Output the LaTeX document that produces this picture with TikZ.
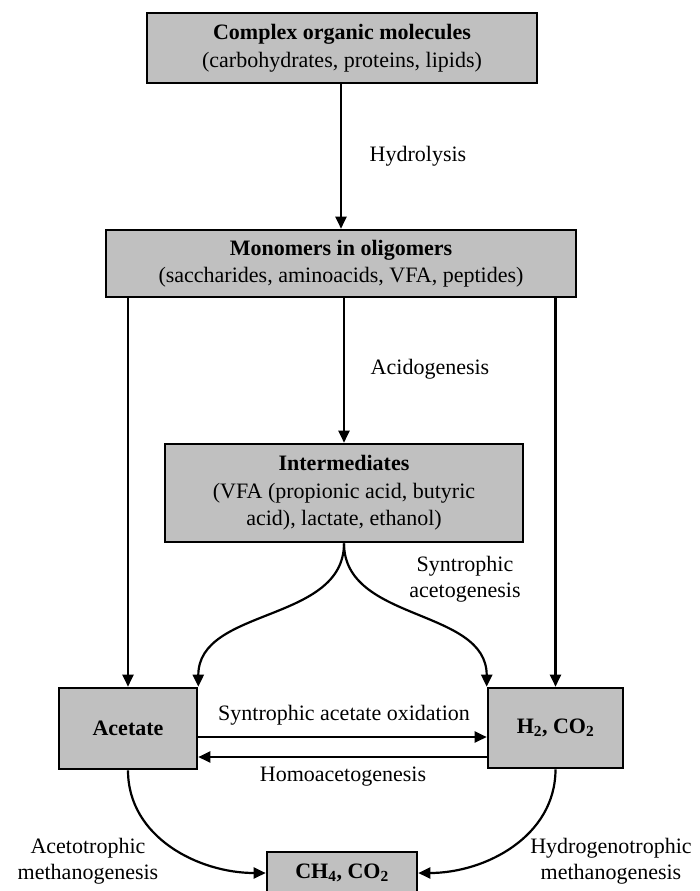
\documentclass[tikz,border=0pt]{standalone}
\usepackage{fontspec}
\setmainfont{Liberation Serif}
\usetikzlibrary{arrows.meta}
\definecolor{boxgray}{RGB}{192,192,192}
\tikzset{
  box/.style={draw=black, line width=2.6pt, fill=boxgray, rectangle, inner sep=0pt, align=center, font=\fontsize{22}{27.5}\selectfont},
  arr/.style={line width=2.2pt, -{Triangle[length=12pt,width=11pt]}},
  lbl/.style={inner sep=0pt, align=center, font=\fontsize{22}{26.5}\selectfont},
}
\begin{document}
\begin{tikzpicture}[x=1pt,y=-1pt]
\useasboundingbox (0,0) rectangle (699,891);
\clip (0,0) rectangle (699,891);

\node[box, minimum width=390pt, minimum height=70pt] (top) at (342,48)
  {\textbf{Complex organic molecules}\\(carbohydrates, proteins, lipids)};
\node[box, minimum width=470pt, minimum height=67pt] (mono) at (341,263.5)
  {\textbf{Monomers in oligomers}\\(saccharides, aminoacids, VFA, peptides)};
\node[box, minimum width=358pt, minimum height=98pt] (inter) at (344,493)
  {\textbf{Intermediates}\\(VFA (propionic acid, butyric\\acid), lactate, ethanol)};
\node[box, minimum width=138pt, minimum height=81pt] (acet) at (128,728.5)
  {\textbf{Acetate}};
\node[box, minimum width=135pt, minimum height=80pt] (h2) at (555.5,728)
  {\textbf{H\textsubscript{2}, CO\textsubscript{2}}};
\node[box, minimum width=150pt, minimum height=42pt] (ch4) at (342,873)
  {\textbf{CH\textsubscript{4}, CO\textsubscript{2}}};

% vertical arrows
\draw[arr] (top.south -| mono.north) -- (mono.north);
\draw[arr] (inter.north |- mono.south) -- (inter.north);
\draw[arr] (acet.north |- mono.south) -- (acet.north);
\draw[arr] (h2.north |- mono.south) -- (h2.north);

% curves from intermediates
\draw[arr] (inter.south) to[out=-90,in=90] (acet.north east);
\draw[arr] (inter.south) to[out=-90,in=90] (h2.north west);

% horizontal arrows
\draw[arr] ([yshift=-8.5pt]acet.east) -- ([yshift=-8.5pt]acet.east -| h2.west);
\draw[arr] ([yshift=-29pt]h2.west) -- ([yshift=-29pt]h2.west -| acet.east);

% bottom curves
\draw[arr] (acet.south) to[out=-90,in=180] (ch4.west);
\draw[arr] (h2.south) to[out=-90,in=0] (ch4.east);

% labels
\node[lbl] (l1) at (418,156) {Hydrolysis};
\node[lbl] (l2) at (430,369) {Acidogenesis};
\node[lbl] (l3) at (465,579) {Syntrophic\\acetogenesis};
\node[lbl] (l4) at (344,715) {Syntrophic acetate oxidation};
\node[lbl] (l5) at (343,777) {Homoacetogenesis};
\node[lbl] (l6) at (88,861) {Acetotrophic\\methanogenesis};
\node[lbl] (l7) at (611,861) {Hydrogenotrophic\\methanogenesis};
\end{tikzpicture}
\end{document}
